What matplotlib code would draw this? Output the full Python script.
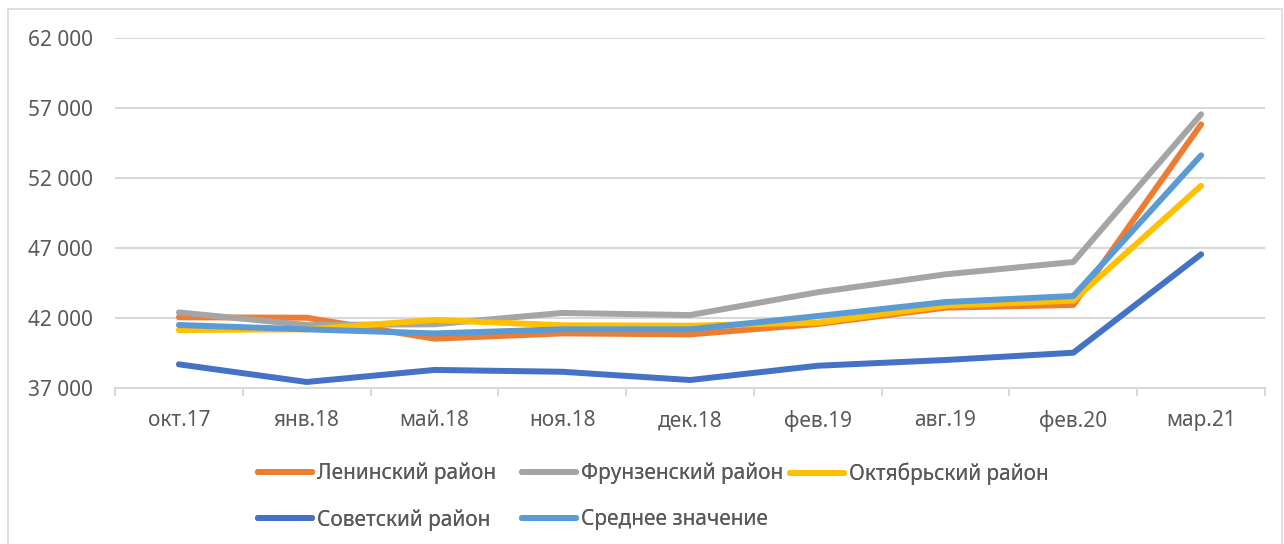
import matplotlib
matplotlib.use("Agg")
import matplotlib.pyplot as plt
from matplotlib.lines import Line2D
from matplotlib.patches import Rectangle
from matplotlib.ticker import FuncFormatter, FixedLocator

# data
months = ['окт.17', 'янв.18', 'май.18', 'ноя.18', 'дек.18', 'фев.19', 'авг.19', 'фев.20', 'мар.21']
leninsky = [42050, 42020, 40520, 40900, 40830, 41570, 42740, 42930, 55830]
frunzensky = [42400, 41500, 41550, 42360, 42210, 43840, 45120, 46000, 56550]
oktyabrsky = [41140, 41190, 41860, 41480, 41450, 41670, 42880, 43240, 51450]
sovetsky = [38690, 37430, 38290, 38160, 37570, 38590, 39000, 39520, 46550]
average = [41500, 41190, 40900, 41190, 41190, 42140, 43140, 43570, 53620]

series = [
    ('Ленинский район', leninsky, '#ED7D31'),
    ('Фрунзенский район', frunzensky, '#A5A5A5'),
    ('Октябрьский район', oktyabrsky, '#FFC000'),
    ('Советский район', sovetsky, '#4472C4'),
    ('Среднее значение', average, '#5B9BD5'),
]

plt.rcParams['font.family'] = ['Noto Sans', 'DejaVu Sans']
text_color = '#595959'
grid_color = '#D9D9D9'

W, H = 1284, 544
fig = plt.figure(figsize=(W / 100, H / 100), dpi=100)
ax = fig.add_axes([115 / W, 1 - 388 / H, (1265 - 115) / W, (388 - 38) / H])

x = list(range(len(months)))
lines = {}
for name, vals, col in series:
    ln, = ax.plot(x, vals, color=col, lw=4.3, solid_capstyle='round',
                  solid_joinstyle='round', zorder=3)
    lines[name] = ln

ax.set_xlim(-0.5, len(months) - 0.5)
ax.set_ylim(37000, 62000)
ax.set_yticks(range(37000, 62001, 5000))
ax.yaxis.set_major_formatter(FuncFormatter(lambda v, p: f'{int(v):,}'.replace(',', ' ')))
ax.grid(axis='y', color=grid_color, lw=1.5, zorder=0)

ax.set_xticks(x)
ax.set_xticklabels(months)
ax.xaxis.set_minor_locator(FixedLocator([i - 0.5 for i in range(len(months) + 1)]))
ax.tick_params(axis='x', which='major', length=0, pad=16, labelsize=15, labelcolor=text_color)
ax.tick_params(axis='x', which='minor', length=6, width=1.5, color=grid_color)
ax.tick_params(axis='y', length=0, pad=16, labelsize=15, labelcolor=text_color)

for s in ['top', 'right', 'left']:
    ax.spines[s].set_visible(False)
ax.spines['bottom'].set_color(grid_color)
ax.spines['bottom'].set_linewidth(1.5)

# legend: three equal-width columns like in Excel
cols = [
    (258, ['Ленинский район', 'Советский район']),
    (522, ['Фрунзенский район', 'Среднее значение']),
    (790, ['Октябрьский район']),
]
for xpos, names in cols:
    handles = [Line2D([], [], color=lines[n].get_color(), lw=4.3, solid_capstyle='round') for n in names]
    leg = fig.legend(handles, names, loc='upper left', bbox_to_anchor=(xpos / W, 1 - 463 / H),
                     frameon=False, fontsize=15, handlelength=2.6, handletextpad=0.25,
                     labelspacing=1.18, borderpad=0, borderaxespad=0, labelcolor=text_color)
    fig.add_artist(leg)

# chart border
fig.patches.append(Rectangle((8 / W, -0.05), (1282 - 8) / W, 1.05 - 9 / H,
                             transform=fig.transFigure, fill=False,
                             edgecolor=grid_color, lw=1.2))

fig.savefig('out.png', dpi=100, facecolor='white')
